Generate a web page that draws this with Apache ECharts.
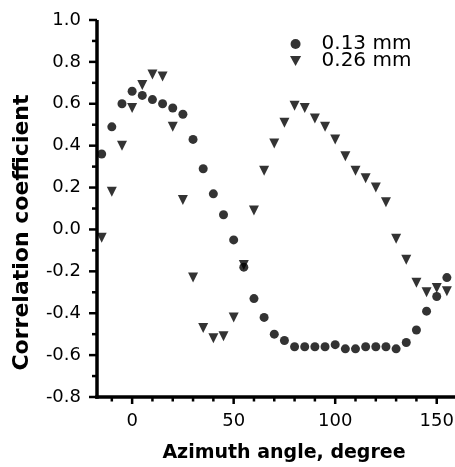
<!DOCTYPE html>
<html>
<head>
<meta charset="utf-8">
<script src="https://cdn.jsdelivr.net/npm/echarts@6/dist/echarts.min.js"></script>
<style>
  html, body { margin: 0; padding: 0; background: #fff; }
  #chart { width: 455px; height: 467px; }
</style>
</head>
<body>
<div id="chart"></div>
<script>
// azimuth angles, degree
var angles = [-15, -10, -5, 0, 5, 10, 15, 20, 25, 30, 35, 40, 45, 50, 55, 60, 65, 70,
  75, 80, 85, 90, 95, 100, 105, 110, 115, 120, 125, 130, 135, 140, 145, 150, 155];

// correlation coefficient, 0.13 mm
var corr013 = [0.36, 0.49, 0.60, 0.66, 0.64, 0.62, 0.60, 0.58, 0.55, 0.43, 0.29, 0.17, 0.07,
  -0.05, -0.18, -0.33, -0.42, -0.50, -0.53, -0.56, -0.56, -0.56, -0.56, -0.55, -0.57, -0.57,
  -0.56, -0.56, -0.56, -0.57, -0.54, -0.48, -0.39, -0.32, -0.23];

// correlation coefficient, 0.26 mm
var corr026 = [-0.04, 0.18, 0.40, 0.58, 0.69, 0.74, 0.73, 0.49, 0.14, -0.23, -0.47, -0.52, -0.51,
  -0.42, -0.17, 0.09, 0.28, 0.41, 0.51, 0.59, 0.58, 0.53, 0.49, 0.43, 0.35, 0.28, 0.245,
  0.20, 0.13, -0.045, -0.145, -0.255, -0.30, -0.28, -0.295];

// ticks
var xMajorTicks = [0, 50, 100, 150];
var xMinorTicks = [-10, 10, 20, 30, 40, 60, 70, 80, 90, 110, 120, 130, 140];
var yMajorTicks = [-0.8, -0.6, -0.4, -0.2, 0, 0.2, 0.4, 0.6, 0.8, 1.0];
var yMinorTicks = [-0.7, -0.5, -0.3, -0.1, 0.1, 0.3, 0.5, 0.7, 0.9];

var xMin = -17.3, xMax = 159, yMin = -0.8, yMax = 1;

var myChart = echarts.init(document.getElementById('chart'));

function toPoints(ys) {
  return angles.map(function (a, i) { return [a, ys[i]]; });
}

var fontName = 'DejaVu Sans';
var downTriangle = 'path://M0,0L10,0L5,9Z';

var chartOption = {
  animation: false,
  grid: { left: 97, right: 0, top: 20, bottom: 70, outerBoundsMode: 'none' },
  legend: {
    orient: 'vertical',
    left: 285,
    top: 29,
    itemWidth: 12,
    itemHeight: 10,
    itemGap: -3,
    textStyle: { fontFamily: fontName, fontSize: 20, color: '#000', padding: [0, 0, 0, 15] },
    data: [{ name: '0.13 mm' }, { name: '0.26 mm', icon: downTriangle }]
  },
  xAxis: {
    type: 'value',
    min: xMin,
    max: xMax,
    name: 'Azimuth angle, degree',
    nameLocation: 'middle',
    nameGap: 47,
    nameTextStyle: { fontFamily: fontName, fontWeight: 'bold', fontSize: 19, color: '#000', padding: [0, 0, 0, 16] },
    axisLine: { show: false, onZero: false },
    axisTick: { show: false },
    axisLabel: { fontFamily: fontName, fontSize: 18, color: '#000', margin: 15, customValues: xMajorTicks },
    splitLine: { show: false }
  },
  yAxis: {
    type: 'value',
    min: yMin,
    max: yMax,
    interval: 0.2,
    name: 'Correlation coefficient',
    nameLocation: 'middle',
    nameGap: 64,
    nameTextStyle: { fontFamily: fontName, fontWeight: 'bold', fontSize: 22, color: '#000', padding: [0, 48, 0, 0] },
    axisLine: { show: false, onZero: false },
    axisTick: { show: false },
    axisLabel: {
      fontFamily: fontName, fontSize: 18, color: '#000', margin: 16, padding: [5, 0, 0, 0],
      formatter: function (v) { return v.toFixed(1); }
    },
    splitLine: { show: false }
  },
  series: [{
    name: '0.13 mm',
    type: 'scatter',
    symbol: 'circle',
    symbolSize: 9,
    itemStyle: { color: '#000' },
    data: toPoints(corr013)
  }, {
    name: '0.26 mm',
    type: 'scatter',
    symbol: 'triangle',
    symbolRotate: 180,
    symbolSize: 10,
    itemStyle: { color: '#000' },
    data: toPoints(corr026)
  }]
};

myChart.setOption(chartOption);

// axis lines and ticks, placed through the grid's own scales
function px(x, y) {
  return myChart.convertToPixel({ gridIndex: 0 }, [x, y]);
}

function seg(x1, y1, x2, y2, w) {
  return {
    type: 'line', z: 100, silent: true,
    shape: { x1: x1, y1: y1, x2: x2, y2: y2 },
    style: { stroke: '#000', lineWidth: w }
  };
}

function drawAxes() {
  var corner = px(xMin, yMin);
  var top = px(xMin, yMax);
  var right = px(xMax, yMin);
  var els = [];
  els.push(seg(corner[0], top[1], corner[0], corner[1] + 1.75, 3.5));
  els.push(seg(corner[0] - 1.75, corner[1], right[0], corner[1], 3.5));
  xMajorTicks.forEach(function (v) {
    var p = px(v, yMin);
    els.push(seg(p[0], corner[1], p[0], corner[1] + 7, 2.5));
  });
  xMinorTicks.forEach(function (v) {
    var p = px(v, yMin);
    els.push(seg(p[0], corner[1], p[0], corner[1] + 4.5, 2.5));
  });
  yMajorTicks.forEach(function (v) {
    var p = px(xMin, v);
    els.push(seg(corner[0] - 8, p[1], corner[0], p[1], 2.5));
  });
  yMinorTicks.forEach(function (v) {
    var p = px(xMin, v);
    els.push(seg(corner[0] - 5, p[1], corner[0], p[1], 2.5));
  });
  myChart.setOption({ graphic: { elements: els } }, { replaceMerge: ['graphic'] });
}

drawAxes();
window.addEventListener('resize', function () { myChart.resize(); drawAxes(); });
</script>
</body>
</html>
